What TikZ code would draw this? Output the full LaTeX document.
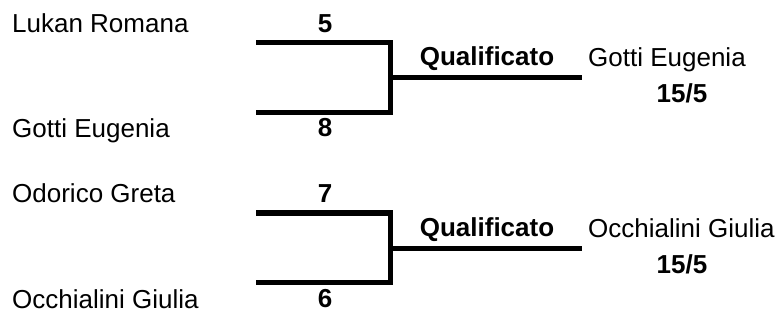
\documentclass[tikz,border=0pt]{standalone}
\usepackage{fontspec}
\setmainfont{Liberation Sans}
\begin{document}
\begin{tikzpicture}[x=1pt,y=-1pt,
  font=\fontsize{26}{31}\selectfont,
  bracket/.style={line width=5pt},
  player/.style={anchor=base west,inner sep=0pt},
  points/.style={anchor=base,inner sep=0pt,font=\fontsize{26}{31}\selectfont\bfseries}]
\useasboundingbox (0,0) rectangle (783,320);
% first match
\coordinate (t1) at (256,43);
\coordinate (b1) at (256,112.5);
\coordinate (j1) at (390.5,78);
\coordinate (w1) at (582,78);
\draw[bracket] (t1) -| (j1) |- (b1);
\draw[bracket] (j1) -- (w1);
\node (p1) at (12,33) [player] {Lukan Romana};
\node (p2) at (12,138) [player] {Gotti Eugenia};
\node (s1) at (325,33) [points] {5};
\node (s2) at (325,137) [points] {8};
\node (q1) at (487,66) [points] {Qualificato};
\node (r1) at (588,67) [player] {Gotti Eugenia};
\node (f1) at (682,103) [points] {15/5};
% second match
\coordinate (t2) at (256,213);
\coordinate (b2) at (256,282.5);
\coordinate (j2) at (390.5,248);
\coordinate (w2) at (582,248);
\draw[bracket] (t2) -| (j2) |- (b2);
\draw[bracket] (j2) -- (w2);
\node (p3) at (12,203) [player] {Odorico Greta};
\node (p4) at (12,308) [player] {Occhialini Giulia};
\node (s3) at (325,203) [points] {7};
\node (s4) at (325,307) [points] {6};
\node (q2) at (487,236) [points] {Qualificato};
\node (r2) at (588,237) [player] {Occhialini Giulia};
\node (f2) at (682,273) [points] {15/5};
\end{tikzpicture}
\end{document}
